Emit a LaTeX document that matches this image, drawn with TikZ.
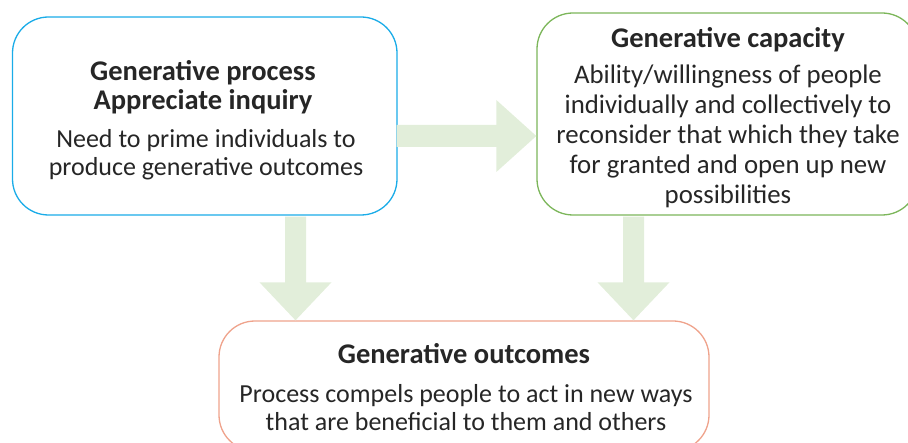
\documentclass[tikz,border=0pt]{standalone}
\usepackage{fontspec}
\setmainfont{Carlito}
\usetikzlibrary{calc}
\definecolor{bluebd}{HTML}{1AACE8}
\definecolor{greenbd}{HTML}{7CB65A}
\definecolor{orangebd}{HTML}{EFA38C}
\definecolor{arrowfill}{HTML}{E2EEDA}
\definecolor{txt}{HTML}{262626}
\newcommand{\firstline}{\rule{0pt}{20pt}}
\tikzset{
  box/.style={draw=#1, line width=1.3pt, rounded corners=36pt, fill=white, inner sep=0pt},
  ttl/.style={font=\fontsize{28.5}{29}\selectfont\bfseries, text=txt, align=center, inner sep=0pt, anchor=north},
  body/.style={font=\fontsize{26}{28}\selectfont, text=txt, align=center, inner sep=0pt, anchor=north},
  bodyr/.style={body, font=\fontsize{26.8}{30}\selectfont},
  blockarrow/.style={fill=arrowfill, draw=none}
}
\begin{document}
\begin{tikzpicture}[x=1pt,y=-1pt]
\useasboundingbox (0,0) rectangle (908,443);
\clip (0,0) rectangle (908,443);
% boxes (shapes only, text placed separately)
\node[box=bluebd, minimum width=384.5pt, minimum height=198pt] (L) at (204.75,116) {};
\node[box=greenbd, minimum width=381pt, minimum height=202pt] (R) at (727.5,114) {};
\node[box=orangebd, minimum width=490pt, minimum height=130pt] (B) at (464,386) {};
% block arrows
\coordinate (a1) at ($(L.east)+(0,20)$);
\coordinate (a1t) at ($(R.west)+(0,22)$);
\fill[blockarrow] ($(a1)+(-1,-11)$) -- ($(a1t)+(-40,-11)$) -- ($(a1t)+(-40,-36)$) -- (a1t)
  -- ($(a1t)+(-40,36)$) -- ($(a1t)+(-40,11)$) -- ($(a1)+(-1,11)$) -- cycle;
\coordinate (d1) at ($(L.south)+(90.75,0)$);
\coordinate (d1t) at (d1 |- B.north);
\fill[blockarrow] ($(d1)+(-10.5,1)$) -- ($(d1t)+(-10.5,-38)$) -- ($(d1t)+(-36,-38)$) -- (d1t)
  -- ($(d1t)+(36,-38)$) -- ($(d1t)+(10.5,-38)$) -- ($(d1)+(10.5,1)$) -- cycle;
\coordinate (d2) at ($(R.south)+(-94,0)$);
\coordinate (d2t) at (d2 |- B.north);
\fill[blockarrow] ($(d2)+(-10.5,1)$) -- ($(d2t)+(-10.5,-38)$) -- ($(d2t)+(-36,-38)$) -- (d2t)
  -- ($(d2t)+(36,-38)$) -- ($(d2t)+(10.5,-38)$) -- ($(d2)+(10.5,1)$) -- cycle;
% texts
\node[ttl] (Lt) at (203,60) {\firstline Generative process\\Appreciate inquiry};
\node[body] (Lb) at (206,127) {\firstline Need to prime individuals to\\produce generative outcomes};
\node[ttl] (Rt) at (728,27) {\firstline Generative capacity};
\node[bodyr] (Rb) at (728,63) {\firstline Ability/willingness of people\\individually and collectively to\\reconsider that which they take\\for granted and open up new\\possibilities};
\node[ttl] (Bt) at (464,343) {\firstline Generative outcomes};
\node[body] (Bb) at (466,382) {\firstline Process compels people to act in new ways\\that are beneficial to them and others};
\end{tikzpicture}
\end{document}
